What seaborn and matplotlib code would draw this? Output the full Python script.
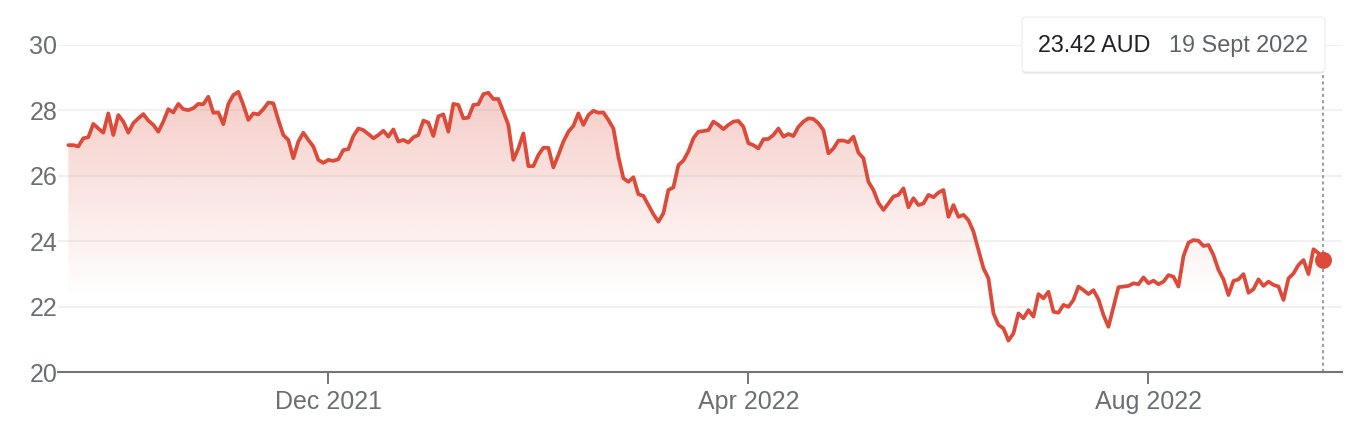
import numpy as np
import pandas as pd
import matplotlib
matplotlib.use('Agg')
import matplotlib.pyplot as plt
import seaborn as sns
from matplotlib.patches import FancyBboxPatch
from matplotlib.transforms import IdentityTransform

# Daily closing prices (AUD), one per trading day, Sept 2021 - 19 Sept 2022
prices = [
    26.94, 26.94, 26.90, 27.15, 27.18, 27.59, 27.45, 27.32, 27.91, 27.25,
    27.86, 27.66, 27.32, 27.61, 27.76, 27.89, 27.69, 27.56, 27.35, 27.66,
    28.04, 27.94, 28.20, 28.04, 28.01,
    28.07, 28.20, 28.19, 28.42, 27.93, 27.94, 27.58, 28.20, 28.47, 28.57,
    28.17, 27.71, 27.91, 27.88, 28.04, 28.24, 28.22, 27.71, 27.25, 27.10,
    26.54, 27.05, 27.32, 27.10, 26.90,
    26.49, 26.40, 26.49, 26.46, 26.51, 26.79, 26.82, 27.22, 27.45, 27.40,
    27.28, 27.15, 27.25, 27.38, 27.20, 27.42, 27.05, 27.10, 27.02, 27.18,
    27.25, 27.69, 27.63, 27.22, 27.82,
    27.88, 27.35, 28.20, 28.17, 27.76, 27.78, 28.17, 28.19, 28.50, 28.54,
    28.35, 28.35, 27.96, 27.56, 26.49, 26.84, 27.30, 26.30, 26.30, 26.64,
    26.86, 26.86, 26.26, 26.64, 27.05,
    27.35, 27.53, 27.91, 27.56, 27.86, 27.99, 27.93, 27.94, 27.71, 27.45,
    26.59, 25.93, 25.82, 25.96, 25.44, 25.39, 25.11, 24.83, 24.60, 24.86,
    25.57, 25.65, 26.33, 26.47, 26.75,
    27.15, 27.35, 27.37, 27.40, 27.66, 27.56, 27.43, 27.56, 27.66, 27.68,
    27.50, 27.00, 26.94, 26.84, 27.12, 27.13, 27.25, 27.45, 27.20, 27.28,
    27.22, 27.50, 27.66, 27.76, 27.74,
    27.61, 27.40, 26.69, 26.84, 27.08, 27.08, 27.03, 27.20, 26.71, 26.54,
    25.82, 25.57, 25.18, 24.96, 25.16, 25.37, 25.42, 25.62, 25.04, 25.32,
    25.11, 25.16, 25.42, 25.35, 25.49, 25.57,
    24.75, 25.11, 24.75, 24.81, 24.65, 24.30, 23.74, 23.18, 22.87, 21.80,
    21.45, 21.34, 20.97, 21.19, 21.80, 21.65, 21.90, 21.70, 22.39, 22.26,
    22.46, 21.85, 21.82, 22.06, 22.00,
    22.21, 22.62, 22.51, 22.39, 22.51, 22.23, 21.75, 21.39, 22.00, 22.60,
    22.62, 22.64, 22.72, 22.69, 22.90, 22.72, 22.80, 22.69, 22.77, 22.97,
    22.92, 22.62, 23.55,
    23.96, 24.04, 24.02, 23.86, 23.89, 23.58, 23.13, 22.84, 22.36, 22.79,
    22.84, 23.00, 22.43, 22.54, 22.84, 22.64, 22.77, 22.67, 22.62, 22.21,
    22.87, 23.02, 23.28, 23.43, 23.00, 23.76, 23.64, 23.42,
]
month_tick_idx = [52, 136, 216]
month_tick_labels = ['Dec 2021', 'Apr 2022', 'Aug 2022']
y_ticks = [20, 22, 24, 26, 28, 30]
tooltip_price = '23.42 AUD'
tooltip_date = '19 Sept 2022'

df = pd.DataFrame({'day': np.arange(len(prices)), 'price': prices})

sns.set_theme(style='white')
plt.rcParams['font.family'] = ['Liberation Sans', 'DejaVu Sans']

red = '#dc4b3a'
grey = '#6b6f74'

fig = plt.figure(figsize=(13.48, 4.34), dpi=100)
ax = fig.add_axes([58.3 / 1348, 61.7 / 434, (1342 - 58.3) / 1348, 327.3 / 434])

# gradient fill under the line, clipped to the area below it
y_lo, y_hi = 20, max(prices)
ys = np.linspace(y_lo, y_hi, 256)
alpha = np.clip((ys - 22.3) / (y_hi - 22.3), 0, 1) * 0.28
rgba = np.zeros((256, 1, 4))
rgba[..., :3] = matplotlib.colors.to_rgb(red)
rgba[:, 0, 3] = alpha
im = ax.imshow(rgba, extent=[df.day.min(), df.day.max(), y_lo, y_hi],
               origin='lower', aspect='auto', zorder=1, interpolation='bilinear')
poly = ax.fill_between(df.day, df.price, y_lo, color='none', lw=0)
im.set_clip_path(poly.get_paths()[0], transform=ax.transData)

sns.lineplot(data=df, x='day', y='price', color=red, lw=2.7, ax=ax, zorder=3)
ax.lines[-1].set_solid_joinstyle('round')

# hover marker and guide
last = df.iloc[-1]
ax.axvline(last.day, ymin=0, ymax=0.917, color='#9aa0a6', lw=1.5,
           ls=(0, (1.5, 1.5)), zorder=2)
ax.scatter([last.day], [last.price], s=150, color=red, zorder=4, edgecolors='none')

ax.set_xlim(-2, 254.7)
ax.set_ylim(20, 30)
ax.set_yticks(y_ticks)
ax.set_xticks(month_tick_idx)
ax.set_xticklabels(month_tick_labels)
ax.set_xlabel('')
ax.set_ylabel('')

ax.yaxis.grid(True, color='#f1f1f1', lw=1.5)
ax.xaxis.grid(False)
ax.set_axisbelow(True)
for s in ['top', 'right', 'left']:
    ax.spines[s].set_visible(False)
ax.spines['bottom'].set_color('#757575')
ax.spines['bottom'].set_linewidth(1.5)
ax.spines['bottom'].set_zorder(5)

ax.tick_params(axis='y', length=0, pad=0.8, labelsize=18, labelcolor=grey)
ax.tick_params(axis='x', length=8.6, width=1.4, color='#757575', direction='out',
               pad=4, labelsize=18, labelcolor=grey, bottom=True)

# tooltip box (pixel coordinates)
tr = IdentityTransform()
shadow = FancyBboxPatch((1022, 434 - 73.5), 303, 55, boxstyle='round,pad=0,rounding_size=4',
                        transform=tr, facecolor='black', alpha=0.12, edgecolor='none')
box = FancyBboxPatch((1022, 434 - 72), 303, 55, boxstyle='round,pad=0,rounding_size=4',
                     transform=tr, facecolor='white', edgecolor='#ececec', lw=0.8)
fig.add_artist(shadow)
fig.add_artist(box)
fig.text(1038.3 / 1348, (434 - 51.7) / 434, tooltip_price, color='#202124',
         fontsize=16.8, va='baseline', ha='left')
fig.text(1169.3 / 1348, (434 - 51.7) / 434, tooltip_date, color='#5f6368',
         fontsize=16.8, va='baseline', ha='left')

fig.savefig('out.png', dpi=100)
